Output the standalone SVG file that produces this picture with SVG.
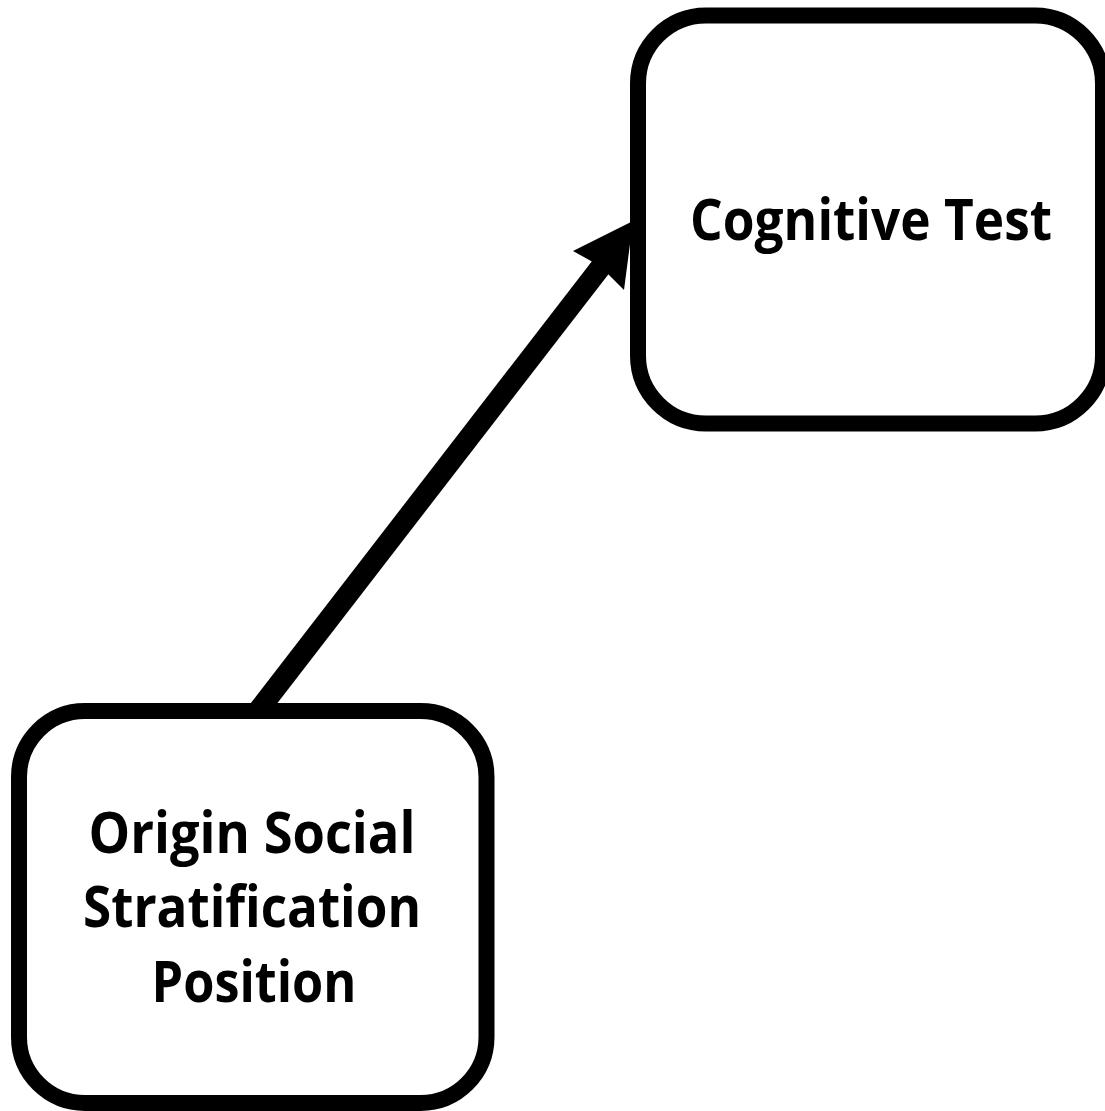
<svg xmlns="http://www.w3.org/2000/svg" width="1105" height="1111" viewBox="0 0 1105 1111">
<style>
.box{fill:#fff;stroke:#000;stroke-width:16}
.lbl{font-family:"Open Sans","Liberation Sans",sans-serif;font-weight:bold;font-size:58px;fill:#000;text-anchor:middle}
.conn{stroke:#000;stroke-width:21;fill:none}
</style>
<rect width="1105" height="1111" fill="#fff"/>
<g id="connectors">
<line class="conn" x1="258" y1="711" x2="610" y2="255"/>
<polygon points="633,221 573,251 600,266 624,290" fill="#000"/>
</g>
<g id="node-cognitive">
<rect class="box" x="638" y="15.5" width="465" height="408" rx="68" ry="68"/>
<text class="lbl" x="871" y="240" textLength="362" lengthAdjust="spacingAndGlyphs">Cognitive Test</text>
</g>
<g id="node-origin">
<rect class="box" x="19" y="711" width="467.5" height="392" rx="66" ry="66"/>
<text class="lbl" x="252" y="853" textLength="327" lengthAdjust="spacingAndGlyphs">Origin Social</text>
<text class="lbl" x="252" y="927" textLength="338" lengthAdjust="spacingAndGlyphs">Stratification</text>
<text class="lbl" x="254" y="1002" textLength="205" lengthAdjust="spacingAndGlyphs">Position</text>
</g>
</svg>
